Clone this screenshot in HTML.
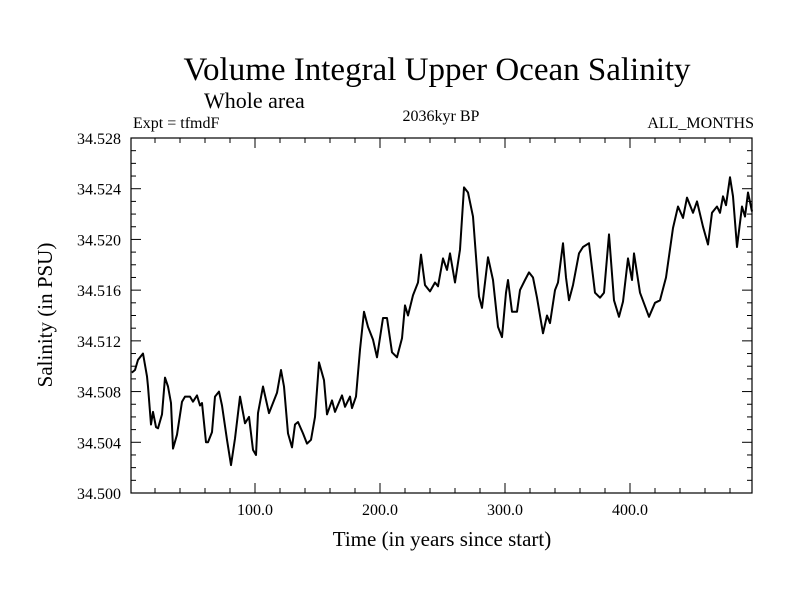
<!DOCTYPE html>
<html><head><meta charset="utf-8"><style>
body{margin:0;background:#fff}
svg{display:block;font-family:"Liberation Serif",serif}
</style></head><body>
<svg id="chart" width="800" height="600">
<text x="437" y="80" font-size="33" text-anchor="middle">Volume Integral Upper Ocean Salinity</text>
<text x="204" y="108" font-size="22">Whole area</text>
<text x="133" y="128" font-size="16">Expt = tfmdF</text>
<text x="441" y="121" font-size="16" text-anchor="middle">2036kyr BP</text>
<text x="754" y="128" font-size="16" text-anchor="end">ALL_MONTHS</text>
<text x="442" y="546" font-size="21" text-anchor="middle">Time (in years since start)</text>
<text transform="translate(52,315) rotate(-90)" font-size="21" text-anchor="middle">Salinity (in PSU)</text>
<g id="axes"></g>
<path id="series" fill="none" stroke="#000" stroke-width="2" stroke-linejoin="round"></path>
<rect x="131" y="138" width="621" height="355" fill="none" stroke="#000" stroke-width="1.2"></rect>
</svg>
<script>
const years=[1.4,4,6.4,10.4,13.6,14.4,16.8,18.4,20.8,22.4,25.6,28,30.4,32.8,34.4,37.6,41.6,44,48,50.4,53.6,56,57.6,60.8,62.4,65.6,68,71.2,73.6,77.6,80.8,84,88,92,95.2,98.4,100.8,102.4,106.4,111.2,117.6,120.8,123.2,126.4,129.6,132,134.4,138.4,141.6,144.8,148,151.2,155.2,157.6,161.6,164,169.6,172,176,177.6,180.8,184,187.2,190.4,194.4,197.6,202.4,205.6,209.6,213.6,217.6,220,222.4,226.4,230.4,232.8,236,240,244,246.4,250.4,253.6,256,260,264,267.2,270.4,274.4,279.2,281.6,286.4,290.4,294.4,297.6,300.8,302.4,305.6,309.6,312,316,319.2,322.4,325.6,330.4,333.6,336,340,342.4,346.4,348.8,351.2,354.4,359.2,362.4,367.2,372,376,379.2,383.2,387.2,391.2,394.4,398.4,401.6,403.2,408,415.2,420,424,428.8,434.4,438.4,442.4,445.6,450.4,453.6,458.4,462.4,465.6,469.6,472,474.4,476.8,480,482.4,485.6,489.6,492,494.4,497.6];
const salinity=[34.5095,34.5097,34.5105,34.5110,34.5092,34.5084,34.5054,34.5064,34.5052,34.5051,34.5062,34.5091,34.5084,34.5071,34.5035,34.5046,34.5072,34.5076,34.5076,34.5072,34.5077,34.5069,34.5071,34.5040,34.5040,34.5048,34.5076,34.5080,34.5069,34.5042,34.5022,34.5043,34.5076,34.5055,34.5060,34.5034,34.5030,34.5063,34.5084,34.5063,34.5079,34.5097,34.5084,34.5047,34.5036,34.5054,34.5056,34.5047,34.5039,34.5042,34.5060,34.5103,34.5089,34.5062,34.5073,34.5064,34.5077,34.5068,34.5076,34.5067,34.5076,34.5113,34.5143,34.5131,34.5121,34.5107,34.5138,34.5138,34.5111,34.5107,34.5122,34.5148,34.5140,34.5156,34.5166,34.5188,34.5164,34.5159,34.5166,34.5163,34.5185,34.5176,34.5189,34.5166,34.5192,34.5241,34.5237,34.5218,34.5155,34.5146,34.5186,34.5168,34.5131,34.5123,34.5158,34.5168,34.5143,34.5143,34.5160,34.5168,34.5174,34.5170,34.5154,34.5126,34.5140,34.5134,34.5160,34.5166,34.5197,34.5170,34.5152,34.5164,34.5189,34.5194,34.5197,34.5158,34.5154,34.5158,34.5204,34.5152,34.5139,34.5151,34.5185,34.5168,34.5189,34.5158,34.5139,34.5150,34.5152,34.5170,34.5209,34.5226,34.5217,34.5233,34.5221,34.5230,34.5210,34.5196,34.5221,34.5226,34.5221,34.5234,34.5227,34.5249,34.5234,34.5194,34.5226,34.5218,34.5237,34.5222];
const yTickLabels=["34.500","34.504","34.508","34.512","34.516","34.520","34.524","34.528"];
const xTickLabels=["100.0","200.0","300.0","400.0"];
const X0=131,X1=752,Y0=493,Y1=138,TMIN=0.8,TMAX=497.6,VMIN=34.5,VMAX=34.528;
function xs(t){return X0+(t-TMIN)/(TMAX-TMIN)*(X1-X0);}
function ys(v){return Y0-(v-VMIN)/(VMAX-VMIN)*(Y0-Y1);}
const NS="http://www.w3.org/2000/svg";
const axes=document.getElementById('axes');
function line(x1,y1,x2,y2,name){const l=document.createElementNS(NS,'line');l.setAttribute('x1',x1);l.setAttribute('y1',y1);l.setAttribute('x2',x2);l.setAttribute('y2',y2);l.setAttribute('stroke','#000');l.setAttribute('stroke-width','1');


axes.appendChild(l);}
function text(x,y,s,anchor,name){const t=document.createElementNS(NS,'text');t.setAttribute('x',x);t.setAttribute('y',y);t.setAttribute('font-size','16');t.setAttribute('text-anchor',anchor);t.textContent=s;


axes.appendChild(t);}
for(let i=0;i<=28;i++){const v=VMIN+i*0.001,y=ys(v),L=i%4===0?10:5;line(X0,y,X0+L,y,'y-tick');line(X1,y,X1-L,y,'y-tick');}
yTickLabels.forEach(s=>text(121,ys(parseFloat(s))+6,s,'end','y-tick-label'));
for(let t=20;t<TMAX;t+=20){const x=xs(t),L=t%100===0?10:5;line(x,Y0,x,Y0-L,'x-tick');line(x,Y1,x,Y1+L,'x-tick');}
xTickLabels.forEach(s=>text(xs(parseFloat(s)),515,s,'middle','x-tick-label'));
document.getElementById('series').setAttribute('d',years.map((t,i)=>(i?'L':'M')+xs(t).toFixed(1)+','+ys(salinity[i]).toFixed(1)).join(''));
</script>
</body></html>
